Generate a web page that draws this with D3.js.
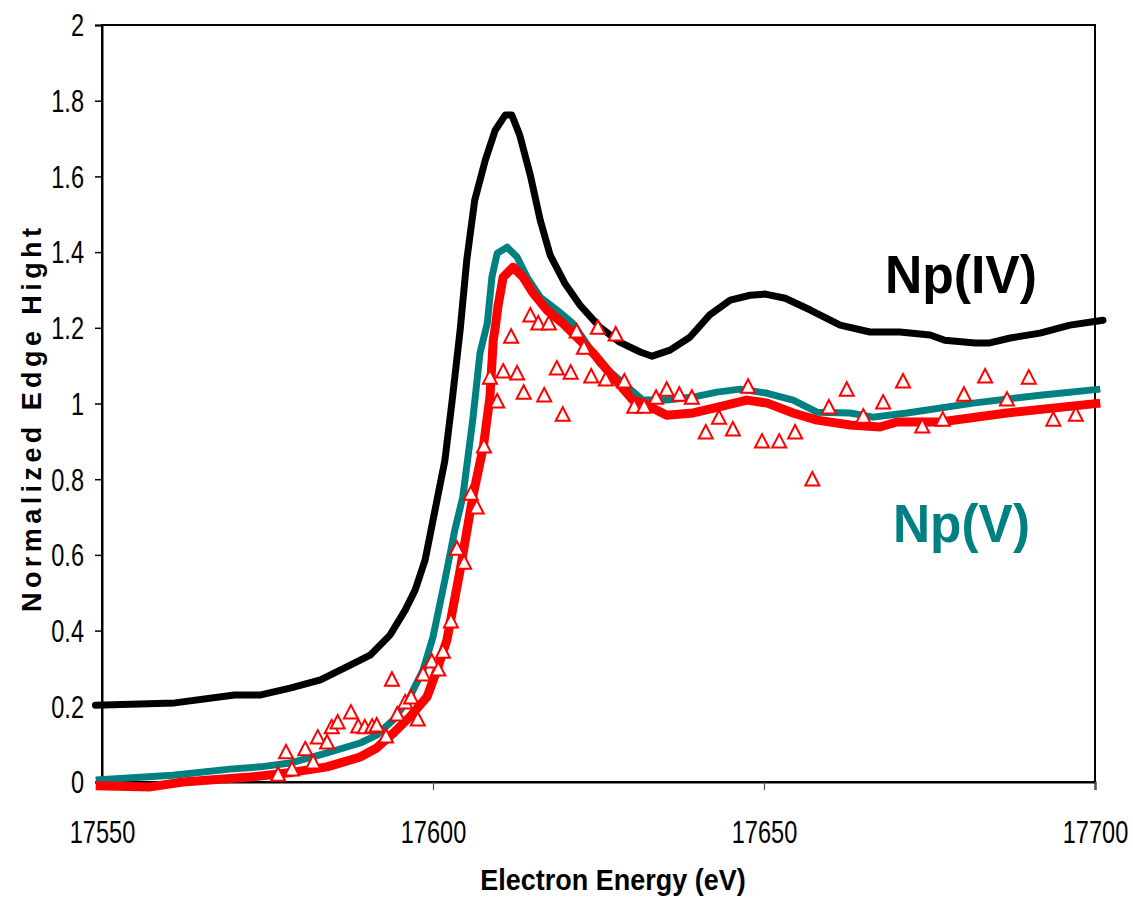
<!DOCTYPE html>
<html>
<head>
<meta charset="utf-8">
<script src="https://cdn.jsdelivr.net/npm/d3@7"></script>
<style>
  html, body { margin: 0; padding: 0; background: #fff; }
  svg { display: block; }
</style>
</head>
<body>
<svg id="chart" width="1133" height="914"></svg>
<script>
// Np(IV) reference spectrum
const energyIV = [17549, 17561, 17570, 17574, 17578.4, 17583, 17587.5, 17590.5, 17593.5, 17595.8,
  17597.3, 17598.8, 17600.3, 17601.8, 17602.9, 17604.1, 17605.1, 17606.3, 17607.9, 17609.4,
  17610.9, 17611.9, 17613.1, 17614.7, 17616.2, 17617.7, 17619.9, 17622.2, 17625.2, 17628.2,
  17631.3, 17633.1, 17635.8, 17638.8, 17641.8, 17644.9, 17647.9, 17650.2, 17653.2, 17657,
  17661.5, 17666, 17670.5, 17675.1, 17677.3, 17681.9, 17684.1, 17687.2, 17691.7, 17696.2, 17701.2];
const muIV = [0.203, 0.209, 0.23, 0.23, 0.248, 0.27, 0.309, 0.335, 0.388, 0.454,
  0.507, 0.586, 0.718, 0.85, 1.009, 1.194, 1.379, 1.537, 1.643, 1.722,
  1.762, 1.762, 1.709, 1.603, 1.484, 1.392, 1.318, 1.26, 1.202, 1.162,
  1.136, 1.125, 1.141, 1.175, 1.234, 1.273, 1.286, 1.289, 1.278, 1.247,
  1.207, 1.189, 1.189, 1.181, 1.167, 1.16, 1.16, 1.173, 1.186, 1.207, 1.22];

// Np(V) reference spectrum
const energyV = [17549.05, 17560.7, 17569.3, 17573.9, 17578.4, 17584, 17589, 17591.5, 17594, 17596.5,
  17598.5, 17600, 17601.8, 17603.3, 17604.5, 17606, 17607.1, 17608.2, 17608.9, 17609.7,
  17611.2, 17612.7, 17614.2, 17616.2, 17618.7, 17621.1, 17625.2, 17628.2, 17631.7, 17635.3,
  17639.3, 17642.9, 17646.4, 17650.5, 17654.4, 17658, 17663, 17666.5, 17671.6, 17681.6,
  17691.7, 17700.8];
const muV = [0.005, 0.018, 0.034, 0.04, 0.05, 0.077, 0.103, 0.124, 0.164, 0.225,
  0.296, 0.383, 0.534, 0.666, 0.753, 0.956, 1.133, 1.212, 1.334, 1.397,
  1.413, 1.387, 1.334, 1.281, 1.247, 1.212, 1.107, 1.062, 1.009, 1.009,
  1.017, 1.03, 1.038, 1.027, 1.009, 0.977, 0.975, 0.964, 0.975, 1.001,
  1.022, 1.038];

// Fitted curve
const energyFit = [17549.05, 17557.3, 17562.2, 17572.4, 17578.9, 17584, 17589, 17591.5, 17594, 17596.5,
  17599.1, 17600.6, 17602.1, 17604.1, 17606, 17607.6, 17608.6, 17609.1, 17609.4, 17609.8,
  17610.6, 17612.1, 17613.6, 17615.1, 17617.2, 17619.6, 17622.2, 17624.2, 17627.2, 17630.2,
  17631.7, 17635.3, 17639.3, 17642.9, 17647.4, 17650.5, 17654.4, 17658, 17663, 17667.5,
  17670.1, 17676.6, 17686.7, 17700.8];
const muFit = [-0.01, -0.013, 0, 0.013, 0.026, 0.04, 0.066, 0.09, 0.129, 0.172,
  0.225, 0.296, 0.375, 0.56, 0.753, 0.885, 1.017, 1.167, 1.2, 1.255,
  1.334, 1.36, 1.334, 1.292, 1.247, 1.212, 1.167, 1.133, 1.07, 1.009,
  1.001, 0.969, 0.975, 0.99, 1.009, 1.001, 0.975, 0.956, 0.943, 0.938,
  0.951, 0.951, 0.975, 1.001];

// Measured sample points
const energySample = [17576.6, 17577.8, 17578.7, 17580.7, 17581.9, 17582.6, 17584, 17584.7, 17585.6, 17587.6,
  17588.7, 17589.7, 17590.8, 17591.5, 17592.9, 17593.8, 17594.6, 17595.8, 17596.7, 17597.7,
  17598.5, 17599.8, 17600.8, 17601.5, 17602.7, 17603.6, 17604.7, 17605.7, 17606.6, 17607.7,
  17608.6, 17609.7, 17610.6, 17611.8, 17612.7, 17613.7, 17614.7, 17615.9, 17616.8, 17617.5,
  17618.7, 17619.6, 17620.8, 17621.7, 17622.8, 17623.9, 17624.9, 17626.1, 17627.6, 17628.9,
  17630.4, 17631.9, 17633.7, 17635.3, 17637.2, 17639.1, 17641.2, 17643.2, 17645.3, 17647.6,
  17649.7, 17652.3, 17654.7, 17657.3, 17659.8, 17662.5, 17665, 17668, 17671, 17673.9,
  17677, 17680.2, 17683.4, 17686.7, 17690, 17693.7, 17697.1];
const muSample = [0.018, 0.077, 0.032, 0.085, 0.05, 0.116, 0.103, 0.143, 0.156, 0.182,
  0.145, 0.143, 0.145, 0.148, 0.119, 0.269, 0.177, 0.209, 0.222, 0.164,
  0.283, 0.317, 0.296, 0.343, 0.423, 0.615, 0.578, 0.76, 0.724, 0.885,
  1.067, 1.004, 1.083, 1.175, 1.078, 1.027, 1.231, 1.21, 1.02, 1.21,
  1.091, 0.969, 1.08, 1.189, 1.146, 1.07, 1.199, 1.062, 1.181, 1.057,
  0.99, 0.99, 1.014, 1.035, 1.022, 1.014, 0.922, 0.961, 0.93, 1.043,
  0.898, 0.898, 0.922, 0.798, 0.988, 1.035, 0.964, 1.001, 1.057, 0.938,
  0.956, 1.022, 1.07, 1.009, 1.067, 0.956, 0.969];

const xTicks = [17550, 17600, 17650, 17700];
const yTicks = [0, 0.2, 0.4, 0.6, 0.8, 1, 1.2, 1.4, 1.6, 1.8, 2];

const svg = d3.select("#chart");
const plotLeft = 102, plotRight = 1095, plotTop = 25, plotBottom = 782;
const squeeze = 0.76; // horizontal squeeze of the tick-label glyphs

const x = d3.scaleLinear().domain([17550, 17700]).range([plotLeft, plotRight]);
const y = d3.scaleLinear().domain([0, 2]).range([plotBottom, plotTop]);

// narrow the glyphs of a text selection by a factor
function narrow(sel, factor) {
  sel.each(function () {
    const w = this.getComputedTextLength();
    d3.select(this).attr("textLength", w * factor).attr("lengthAdjust", "spacingAndGlyphs");
  });
}

// plot frame
svg.append("rect")
  .attr("x", plotLeft).attr("y", plotTop)
  .attr("width", plotRight - plotLeft).attr("height", plotBottom - plotTop)
  .attr("fill", "none").attr("stroke", "#000").attr("stroke-width", 2);

// y axis
const yAxis = svg.append("g")
  .attr("transform", `translate(${plotLeft},0)`)
  .call(d3.axisLeft(y).tickValues(yTicks).tickSize(7).tickPadding(11)
    .tickFormat(d => String(+d.toFixed(1))));
yAxis.select(".domain").attr("stroke", "#000").attr("stroke-width", 2);
yAxis.selectAll(".tick line").attr("stroke", "#000").attr("stroke-width", 1.5);
yAxis.selectAll(".tick text")
  .attr("font-family", "'Liberation Sans', Arial, sans-serif")
  .attr("font-size", 31).attr("fill", "#000").attr("dy", "0.35em")
  .attr("x", -18 / squeeze)
  .attr("transform", `scale(${squeeze},1)`);

// x axis
const xAxis = svg.append("g")
  .attr("transform", `translate(0,${plotBottom})`)
  .call(d3.axisBottom(x).tickValues(xTicks).tickSize(8).tickPadding(30)
    .tickFormat(d3.format("d")));
xAxis.select(".domain").attr("stroke", "#000").attr("stroke-width", 2);
xAxis.selectAll(".tick line").attr("stroke", "#555").attr("stroke-width", 1.2);
xAxis.selectAll(".tick text")
  .attr("font-family", "'Liberation Sans', Arial, sans-serif")
  .attr("font-size", 31).attr("fill", "#000").attr("dy", 0)
  .attr("y", 61).attr("x", 0)
  .attr("transform", `scale(${squeeze},1)`);

// spectra
const line = d3.line().x(d => x(d[0])).y(d => y(d[1]));
const zip = (a, b) => a.map((v, i) => [v, b[i]]);

svg.append("path").datum(zip(energyIV, muIV))
  .attr("d", line).attr("fill", "none")
  .attr("stroke", "#000").attr("stroke-width", 7)
  .attr("stroke-linejoin", "round").attr("stroke-linecap", "round");

svg.append("path").datum(zip(energyV, muV))
  .attr("d", line).attr("fill", "none")
  .attr("stroke", "#008080").attr("stroke-width", 7)
  .attr("stroke-linejoin", "round");

svg.append("path").datum(zip(energyFit, muFit))
  .attr("d", line).attr("fill", "none")
  .attr("stroke", "#ff0000").attr("stroke-width", 9)
  .attr("stroke-linejoin", "round");

// sample markers: open triangles
const tri = "M0,-8L7,5.5L-7,5.5Z";
svg.append("g").selectAll("path")
  .data(zip(energySample, muSample))
  .join("path")
  .attr("d", tri)
  .attr("transform", d => `translate(${x(d[0])},${y(d[1])})`)
  .attr("fill", "#fff").attr("stroke", "#ff0000").attr("stroke-width", 2);

// series labels
svg.append("text")
  .attr("x", 885).attr("y", 293)
  .attr("font-family", "'Liberation Sans', Arial, sans-serif")
  .attr("font-weight", "bold").attr("font-size", 54).attr("fill", "#000")
  .attr("textLength", 152).attr("lengthAdjust", "spacingAndGlyphs")
  .text("Np(IV)");

svg.append("text")
  .attr("x", 893).attr("y", 542)
  .attr("font-family", "'Liberation Sans', Arial, sans-serif")
  .attr("font-weight", "bold").attr("font-size", 54).attr("fill", "#008080")
  .attr("textLength", 137).attr("lengthAdjust", "spacingAndGlyphs")
  .text("Np(V)");

// axis titles
svg.append("text")
  .attr("x", 613).attr("y", 890)
  .attr("text-anchor", "middle")
  .attr("font-family", "'Liberation Sans', Arial, sans-serif")
  .attr("font-weight", "bold").attr("font-size", 29).attr("fill", "#000")
  .text("Electron Energy (eV)")
  .call(narrow, 0.93);

svg.append("text")
  .attr("transform", "translate(41,420) rotate(-90)")
  .attr("text-anchor", "middle")
  .attr("font-family", "'Liberation Sans', Arial, sans-serif")
  .attr("font-weight", "bold").attr("font-size", 27).attr("fill", "#000")
  .attr("textLength", 384).attr("lengthAdjust", "spacing")
  .text("Normalized Edge Hight");
</script>
</body>
</html>
